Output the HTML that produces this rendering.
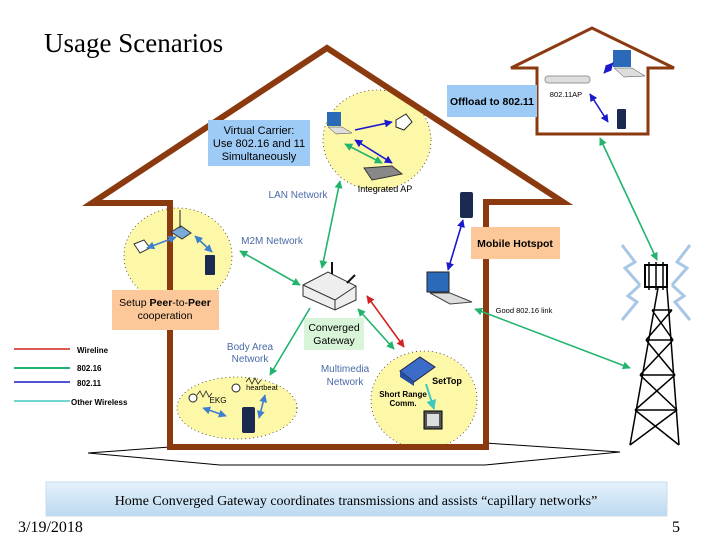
<!DOCTYPE html>
<html><head><meta charset="utf-8"><style>
body{margin:0;background:#fff}
svg{display:block}
.s{font-family:"Liberation Sans",sans-serif}
.t{font-family:"Liberation Serif",serif}
</style></head><body>
<svg width="720" height="540" viewBox="0 0 720 540" xmlns="http://www.w3.org/2000/svg">
<defs>
<marker id="ag" viewBox="0 0 10 10" refX="9" refY="5" markerWidth="5" markerHeight="5" orient="auto-start-reverse"><path d="M0 0L10 5L0 10z" fill="#22b46e"/></marker>
<marker id="ab" viewBox="0 0 10 10" refX="9" refY="5" markerWidth="5" markerHeight="5" orient="auto-start-reverse"><path d="M0 0L10 5L0 10z" fill="#1a1acc"/></marker>
<marker id="al" viewBox="0 0 10 10" refX="9" refY="5" markerWidth="5" markerHeight="5" orient="auto-start-reverse"><path d="M0 0L10 5L0 10z" fill="#3f7fd0"/></marker>
<marker id="ar" viewBox="0 0 10 10" refX="9" refY="5" markerWidth="5" markerHeight="5" orient="auto-start-reverse"><path d="M0 0L10 5L0 10z" fill="#d42020"/></marker>
<marker id="ac" viewBox="0 0 10 10" refX="9" refY="5" markerWidth="5" markerHeight="5" orient="auto"><path d="M0 0L10 5L0 10z" fill="#40c8c0"/></marker>
<linearGradient id="cap" x1="0" y1="0" x2="0" y2="1"><stop offset="0" stop-color="#e6f2fb"/><stop offset="1" stop-color="#bcd9f0"/></linearGradient>
</defs>
<text x="44" y="52" class="t" font-size="27">Usage Scenarios</text>

<path d="M170 447 L88 453 L220 465 L485 465 L620 452 L485 443" fill="none" stroke="#000" stroke-width="1"/>

<ellipse cx="377" cy="140" rx="54" ry="50" fill="#fdf8a8" stroke="#333" stroke-width="0.8" stroke-dasharray="1 3"/>
<ellipse cx="178" cy="256" rx="54" ry="48" fill="#fdf8a8" stroke="#333" stroke-width="0.8" stroke-dasharray="1 3"/>
<ellipse cx="237" cy="408" rx="60" ry="31" fill="#fdf8a8" stroke="#333" stroke-width="0.8" stroke-dasharray="1 3"/>
<ellipse cx="424" cy="400" rx="53" ry="49" fill="#fdf8a8" stroke="#333" stroke-width="0.8" stroke-dasharray="1 3"/>

<path d="M170 447 L170 203 L92 203 L327 48 L563 202 L486 202 L486 447 Z" fill="none" stroke="#8b3a0f" stroke-width="6" stroke-linejoin="miter"/>
<path d="M537 68 L511 68 L592 28 L674 68 L648 68 L648 134 L537 134 Z" fill="none" stroke="#8b3a0f" stroke-width="3"/>

<rect x="208" y="120" width="102" height="46" fill="#9ecbf5"/>
<text class="s" font-size="11" text-anchor="middle"><tspan x="259" y="134">Virtual Carrier:</tspan><tspan x="259" y="147">Use 802.16 and 11</tspan><tspan x="259" y="160">Simultaneously</tspan></text>
<rect x="447" y="85" width="90" height="32" fill="#9ecbf5"/>
<text x="492" y="105" class="s" font-size="10.5" font-weight="bold" text-anchor="middle">Offload to 802.11</text>
<rect x="471" y="227" width="89" height="32" fill="#fcc89a"/>
<text x="515" y="247" class="s" font-size="10.5" font-weight="bold" text-anchor="middle">Mobile Hotspot</text>
<rect x="112" y="290" width="107" height="40" fill="#fcc89a"/>
<text class="s" font-size="10.5" text-anchor="middle"><tspan x="165" y="306">Setup <tspan font-weight="bold">Peer</tspan>-to-<tspan font-weight="bold">Peer</tspan></tspan><tspan x="165" y="319">cooperation</tspan></text>
<rect x="304" y="318" width="60" height="32" fill="#d9f5d9"/>
<text class="s" font-size="10.5" text-anchor="middle"><tspan x="334" y="331">Converged</tspan><tspan x="334" y="344">Gateway</tspan></text>

<text x="298" y="198" class="s" font-size="10" fill="#4a6aa8" text-anchor="middle">LAN Network</text>
<text x="385" y="192" class="s" font-size="9" text-anchor="middle">Integrated AP</text>
<text x="272" y="244" class="s" font-size="10" fill="#4a6aa8" text-anchor="middle">M2M Network</text>
<text class="s" font-size="10" fill="#4a6aa8" text-anchor="middle"><tspan x="250" y="350">Body Area</tspan><tspan x="250" y="362">Network</tspan></text>
<text class="s" font-size="10" fill="#4a6aa8" text-anchor="middle"><tspan x="345" y="372">Multimedia</tspan><tspan x="345" y="385">Network</tspan></text>
<text x="524" y="313" class="s" font-size="7.5" text-anchor="middle">Good 802.16 link</text>
<text x="566" y="97" class="s" font-size="7.5" text-anchor="middle">802.11AP</text>
<text x="447" y="384" class="s" font-size="9" font-weight="bold" text-anchor="middle">SetTop</text>
<text class="s" font-size="8" font-weight="bold" text-anchor="middle"><tspan x="403" y="397">Short Range</tspan><tspan x="403" y="406">Comm.</tspan></text>
<text x="218" y="403" class="s" font-size="8" text-anchor="middle">EKG</text>
<text x="262" y="390" class="s" font-size="7.5" text-anchor="middle">heartbeat</text>

<line x1="14" y1="349" x2="70" y2="349" stroke="#d42020" stroke-width="1.5"/>
<text x="77" y="353" class="s" font-size="8" font-weight="bold">Wireline</text>
<line x1="14" y1="368" x2="70" y2="368" stroke="#22b46e" stroke-width="2"/>
<text x="77" y="371" class="s" font-size="8" font-weight="bold">802.16</text>
<line x1="14" y1="382" x2="70" y2="382" stroke="#1a1acc" stroke-width="1.5"/>
<text x="77" y="386" class="s" font-size="8" font-weight="bold">802.11</text>
<line x1="14" y1="401" x2="70" y2="401" stroke="#40c8c0" stroke-width="1.5"/>
<text x="71" y="405" class="s" font-size="8" font-weight="bold">Other Wireless</text>

<g>
<path d="M303 285 L328 272 L356 286 L356 300 L335 310 L303 296Z" fill="#eee" stroke="#333"/>
<path d="M303 285 L335 300 L356 286 M335 300 L335 310" fill="none" stroke="#333"/>
<line x1="332" y1="274" x2="332" y2="262" stroke="#111" stroke-width="2"/>
<line x1="347" y1="283" x2="355" y2="275" stroke="#111" stroke-width="2"/>
<rect x="427" y="272" width="22" height="20" fill="#2a6ab8" stroke="#222"/>
<path d="M430 293 L450 293 L472 302 L450 304Z" fill="#ddd" stroke="#444"/>
<rect x="327" y="112" width="14" height="14" fill="#2a6ab8"/><path d="M328 127 L342 127 L352 133 L336 134Z" fill="#ddd" stroke="#444" stroke-width=".5"/>
<rect x="613" y="50" width="18" height="17" fill="#2a6ab8"/><path d="M614 68 L632 68 L645 76 L624 77Z" fill="#ddd" stroke="#444" stroke-width=".5"/>
<path d="M396 120 L406 114 L412 122 L404 130 L396 127Z" fill="#fff" stroke="#222"/>
<path d="M364 168 L392 166 L402 174 L372 180Z" fill="#888" stroke="#333"/>
<rect x="545" y="76" width="45" height="7" rx="3" fill="#ddd" stroke="#999"/>
<rect x="460" y="192" width="13" height="26" rx="2" fill="#1a2a50"/>
<rect x="617" y="109" width="9" height="20" rx="1" fill="#1a2a50"/>
<rect x="205" y="255" width="10" height="20" rx="1" fill="#1a2a50"/>
<rect x="242" y="407" width="13" height="26" rx="2" fill="#1a2a50"/>
<path d="M171 232 L181 226 L191 233 L182 239Z" fill="#7aaad8" stroke="#333"/>
<line x1="180" y1="228" x2="180" y2="210" stroke="#222"/>
<path d="M134 244 L144 240 L150 248 L140 253Z" fill="#fff" stroke="#333"/>
<path d="M400 371 L420 357 L435 367 L414 382Z" fill="#3a6cc8" stroke="#224"/>
<path d="M400 371 L400 377 L414 386 L414 382Z" fill="#2850a0"/>
<rect x="424" y="411" width="18" height="18" fill="#555" stroke="#000"/>
<rect x="427" y="414" width="12" height="12" fill="#ddd"/>
<circle cx="193" cy="398" r="4" fill="#fff" stroke="#222"/>
<circle cx="236" cy="388" r="4" fill="#fff" stroke="#222"/>
<path d="M197 395 l3 -4 l3 6 l3 -6 l3 6 l3 -4" fill="none" stroke="#222" stroke-width=".8"/>
<path d="M246 382 l3 -4 l3 6 l3 -6 l3 6 l3 -4" fill="none" stroke="#222" stroke-width=".8"/>
</g>

<g fill="none" stroke-width="1.6">
<line x1="240" y1="251" x2="300" y2="285" stroke="#22b46e" marker-start="url(#ag)" marker-end="url(#ag)"/>
<line x1="340" y1="181" x2="322" y2="268" stroke="#22b46e" marker-start="url(#ag)" marker-end="url(#ag)"/>
<line x1="345" y1="144" x2="382" y2="163" stroke="#22b46e" marker-start="url(#ag)" marker-end="url(#ag)"/>
<line x1="355" y1="140" x2="392" y2="163" stroke="#1a1acc" marker-start="url(#ab)" marker-end="url(#ab)"/>
<line x1="355" y1="130" x2="392" y2="122" stroke="#1a1acc" marker-end="url(#ab)"/>
<line x1="604" y1="73" x2="613" y2="63" stroke="#1a1acc" marker-start="url(#ab)" marker-end="url(#ab)"/>
<line x1="590" y1="94" x2="608" y2="122" stroke="#1a1acc" marker-start="url(#ab)" marker-end="url(#ab)"/>
<line x1="600" y1="138" x2="657" y2="260" stroke="#22b46e" marker-start="url(#ag)" marker-end="url(#ag)"/>
<line x1="463" y1="220" x2="448" y2="270" stroke="#1a1acc" marker-start="url(#ab)" marker-end="url(#ab)"/>
<line x1="475" y1="309" x2="630" y2="368" stroke="#22b46e" marker-start="url(#ag)" marker-end="url(#ag)"/>
<line x1="367" y1="296" x2="404" y2="347" stroke="#d42020" marker-start="url(#ar)" marker-end="url(#ar)"/>
<line x1="358" y1="309" x2="394" y2="349" stroke="#22b46e" marker-start="url(#ag)" marker-end="url(#ag)"/>
<line x1="310" y1="308" x2="270" y2="375" stroke="#22b46e" marker-end="url(#ag)"/>
<line x1="426" y1="384" x2="434" y2="409" stroke="#40c8c0" stroke-width="2" marker-end="url(#ac)"/>
<line x1="147" y1="248" x2="176" y2="237" stroke="#3f7fd0" marker-start="url(#al)" marker-end="url(#al)"/>
<line x1="195" y1="236" x2="212" y2="252" stroke="#3f7fd0" marker-start="url(#al)" marker-end="url(#al)"/>
<line x1="203" y1="408" x2="226" y2="416" stroke="#3f7fd0" marker-start="url(#al)" marker-end="url(#al)"/>
<line x1="265" y1="395" x2="259" y2="418" stroke="#3f7fd0" marker-start="url(#al)" marker-end="url(#al)"/>
</g>

<g stroke="#000" stroke-width="1.5" fill="none">
<path d="M658 288 L630 445 M667 288 L679 445"/>
<path d="M652 310 L672 310 M646 340 L673 340 M640 375 L675 375 M635 410 L677 410"/>
<path d="M652 310 L673 340 M672 310 L646 340 M646 340 L675 375 M673 340 L640 375 M640 375 L677 410 M675 375 L635 410 M635 410 L679 445 M677 410 L630 445"/>
<rect x="645" y="265" width="22" height="22" stroke-width="2"/>
<path d="M649 262 V290 M656 262 V290 M663 262 V290"/>
</g>
<g stroke="#a8c6e6" stroke-width="3" fill="none">
<path d="M622 245 L635 262 L625 268 L640 285"/>
<path d="M690 245 L677 262 L687 268 L672 285"/>
<path d="M622 320 L637 302 L628 296 L640 285"/>
<path d="M690 320 L675 302 L684 296 L672 285"/>
</g>

<rect x="46" y="482" width="621" height="34" fill="url(#cap)" stroke="#c8dcec"/>
<text x="356" y="505" class="t" font-size="14" text-anchor="middle">Home Converged Gateway coordinates transmissions and assists “capillary networks”</text>
<text x="18" y="532" class="t" font-size="16">3/19/2018</text>
<text x="672" y="532" class="t" font-size="16">5</text>
</svg>
</body></html>
